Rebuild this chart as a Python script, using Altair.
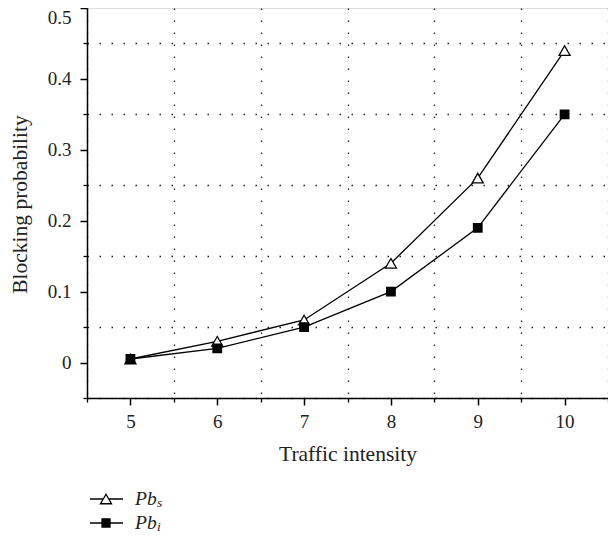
import altair as alt
import pandas as pd

# ---- data ----
traffic = [5, 6, 7, 8, 9, 10]
pb_s = [0.005, 0.03, 0.06, 0.14, 0.26, 0.44]
pb_i = [0.005, 0.02, 0.05, 0.10, 0.19, 0.35]
series_names = ["Pb_s", "Pb_i"]
legend_main = ["Pb", "Pb"]
legend_sub = ["s", "i"]

x_major = [5, 6, 7, 8, 9, 10]
x_minor = [4.5, 5.5, 6.5, 7.5, 8.5, 9.5, 10.5]
y_major = [0, 0.1, 0.2, 0.3, 0.4, 0.5]
y_minor = [-0.05, 0.05, 0.15, 0.25, 0.35, 0.45]

df = pd.DataFrame({
    "traffic": traffic * 2,
    "value": pb_s + pb_i,
    "series": [series_names[0]] * len(traffic) + [series_names[1]] * len(traffic),
})

FONT = "Liberation Serif"
W, H = 521, 390

xs = alt.Scale(domain=[4.5, 10.5], nice=False, zero=False)
ys = alt.Scale(domain=[-0.05, 0.5], nice=False, zero=False)

# minor ticks + dotted grid
grid_layer = alt.Chart(df).mark_line(opacity=0).encode(
    x=alt.X("traffic:Q", scale=xs, axis=alt.Axis(
        orient="bottom", values=x_minor, labels=False, title=None,
        tickSize=4, tickWidth=1.3, tickColor="black",
        grid=True, gridDash=[1.5, 10.5], gridColor="#222", gridWidth=1.3,
        domain=False)),
    y=alt.Y("value:Q", scale=ys, axis=alt.Axis(
        orient="left", values=y_minor, labels=False, title=None,
        tickSize=4, tickWidth=1.3, tickColor="black",
        grid=True, gridDash=[1.5, 10.5], gridColor="#222", gridWidth=1.3,
        domain=False)),
    detail="series:N",
)

# major axes + lines
line_layer = alt.Chart(df).mark_line(color="black", strokeWidth=1.3).encode(
    x=alt.X("traffic:Q", scale=xs, axis=alt.Axis(
        orient="bottom", values=x_major, format="d", grid=False,
        tickSize=7, tickWidth=1.5, tickColor="black",
        domainColor="black", domainWidth=1.5,
        labelFont=FONT, labelFontSize=19, labelColor="#222", labelPadding=7,
        title="Traffic intensity", titleFont=FONT, titleFontSize=21.5,
        titleFontWeight="normal", titleColor="#222",
        titleBaseline="alphabetic", titleY=62)),
    y=alt.Y("value:Q", scale=ys, axis=alt.Axis(
        orient="left", values=y_major, format="~g", grid=False,
        tickSize=7, tickWidth=1.5, tickColor="black",
        domainColor="black", domainWidth=1.5,
        labelFont=FONT, labelFontSize=19, labelColor="#222", labelPadding=9,
        labelFlush=True,
        title="Blocking probability", titleFont=FONT, titleFontSize=21.5,
        titleFontWeight="normal", titleColor="#222",
        titleAngle=270, titleBaseline="alphabetic", titleAlign="center",
        titleX=-61, titleY=196)),
    detail="series:N",
)

point_layer = alt.Chart(df).mark_point(filled=False, stroke="black", strokeWidth=1.3, opacity=1).encode(
    x=alt.X("traffic:Q", scale=xs, axis=None),
    y=alt.Y("value:Q", scale=ys, axis=None),
    shape=alt.Shape("series:N", scale=alt.Scale(domain=series_names, range=["triangle-up", "square"]), legend=None),
    fill=alt.Fill("series:N", scale=alt.Scale(domain=series_names, range=["white", "black"]), legend=None),
    size=alt.Size("series:N", scale=alt.Scale(domain=series_names, range=[121, 72]), legend=None),
)

# manual legend below the plot
leg_layers = []
leg_y = [491, 515]
leg_shapes = ["triangle-up", "square"]
leg_fills = ["white", "black"]
leg_sizes = [121, 64]
for k in range(2):
    base = alt.Chart(pd.DataFrame({"label": [legend_main[k]], "sub": [legend_sub[k]]}))
    leg_layers.append(base.mark_rule(color="black", strokeWidth=1.3).encode(
        x=alt.value(3), x2=alt.value(36), y=alt.value(leg_y[k])))
    leg_layers.append(base.mark_point(shape=leg_shapes[k], fill=leg_fills[k], filled=True,
                                      stroke="black", strokeWidth=1.3, size=leg_sizes[k], opacity=1).encode(
        x=alt.value(19), y=alt.value(leg_y[k])))
    leg_layers.append(base.mark_text(font=FONT, fontStyle="italic", fontSize=19.5, align="left",
                                     baseline="alphabetic", color="#222").encode(
        text="label:N", x=alt.value(48), y=alt.value(leg_y[k] + 6)))
    leg_layers.append(base.mark_text(font=FONT, fontStyle="italic", fontSize=13.5, align="left",
                                     baseline="alphabetic", color="#222").encode(
        text="sub:N", x=alt.value(70), y=alt.value(leg_y[k] + 8)))

chart = alt.layer(grid_layer, line_layer, point_layer, *leg_layers).resolve_axis(
    x="independent", y="independent"
).properties(
    width=W, height=H,
    autosize=alt.AutoSizeParams(type="none"),
    padding={"left": 79, "top": 0, "right": 0, "bottom": 136},
).configure_view(
    stroke="black", strokeWidth=1.5
).configure(background="white")

chart.save("out.html", embed_options={"renderer": "svg", "actions": False})
